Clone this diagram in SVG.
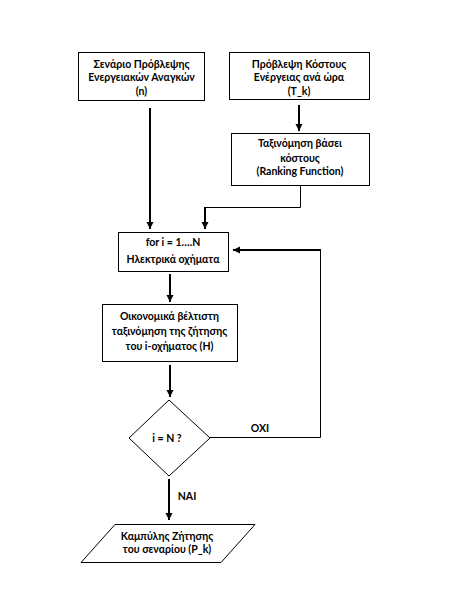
<svg xmlns="http://www.w3.org/2000/svg" width="467" height="607" viewBox="0 0 467 607">
<defs>
<marker id="ah" markerWidth="8" markerHeight="8" refX="7" refY="4" orient="auto" markerUnits="userSpaceOnUse">
<path d="M0,0.5 L7,4 L0,7.5 Z" fill="#000"/>
</marker>
<style>
.n{fill:#fff;stroke:#000;stroke-width:1}
.t{font-family:Lato,"Open Sans","Liberation Sans",sans-serif;font-weight:bold;font-size:10.5px;text-anchor:middle;fill:#000}
.a{fill:none;stroke:#000;stroke-width:2}
.l{fill:none;stroke:#000;stroke-width:1}
</style>
</defs>
<rect width="467" height="607" fill="#fff"/>
<g id="connectors">
<path class="a" d="M299,105 V131" marker-end="url(#ah)"/>
<path class="a" d="M150,108 V229" marker-end="url(#ah)"/>
<path class="l" d="M300.5,186 V207.5 H205"/>
<path class="a" d="M205,207 V229" marker-end="url(#ah)"/>
<path class="a" d="M170,274 V302" marker-end="url(#ah)"/>
<path class="a" d="M170,365 V397" marker-end="url(#ah)"/>
<path class="l" d="M210,437.5 H320.5 V250"/>
<path class="a" d="M321,250 H233" marker-end="url(#ah)"/>
<path class="a" d="M169,479 V520" marker-end="url(#ah)"/>
<text class="t" x="260" y="432">OXI</text>
<text class="t" x="187" y="500">NAI</text>
</g>
<g id="n1">
<rect class="n" x="78.5" y="52.5" width="126" height="48"/>
<text class="t" x="141.5" y="68">Σενάριο Πρόβλεψης</text>
<text class="t" x="141.5" y="81">Ενεργειακών Αναγκών</text>
<text class="t" x="141.5" y="95">(n)</text>
</g>
<g id="n2">
<rect class="n" x="229.5" y="52.5" width="140" height="47"/>
<text class="t" x="299" y="68">Πρόβλεψη Κόστους</text>
<text class="t" x="299" y="81">Ενέργειας ανά ώρα</text>
<text class="t" x="299" y="95">(T_k)</text>
</g>
<g id="n3">
<rect class="n" x="231.5" y="133.5" width="138" height="52"/>
<text class="t" x="300" y="147">Ταξινόμηση βάσει</text>
<text class="t" x="300" y="162">κόστους</text>
<text class="t" x="300" y="175">(Ranking Function)</text>
</g>
<g id="n4">
<rect class="n" x="118.5" y="232.5" width="110" height="39"/>
<text class="t" x="173" y="246">for i = 1….N</text>
<text class="t" x="173" y="263">Ηλεκτρικά οχήματα</text>
</g>
<g id="n5">
<rect class="n" x="102.5" y="304.5" width="135" height="57"/>
<text class="t" x="169.5" y="320">Οικονομικά βέλτιστη</text>
<text class="t" x="169.5" y="335">ταξινόμηση της ζήτησης</text>
<text class="t" x="169.5" y="350">του i-οχήματος (H)</text>
</g>
<g id="n6">
<polygon class="n" points="169,400 210,438 169,476 129,438"/>
<text class="t" x="167" y="442">i = N ?</text>
</g>
<g id="n7">
<polygon class="n" points="115,524.5 255,524.5 221,562.5 81,562.5"/>
<text class="t" x="167" y="540">Καμπύλης Ζήτησης</text>
<text class="t" x="167" y="553">του σεναρίου (P_k)</text>
</g>
</svg>
